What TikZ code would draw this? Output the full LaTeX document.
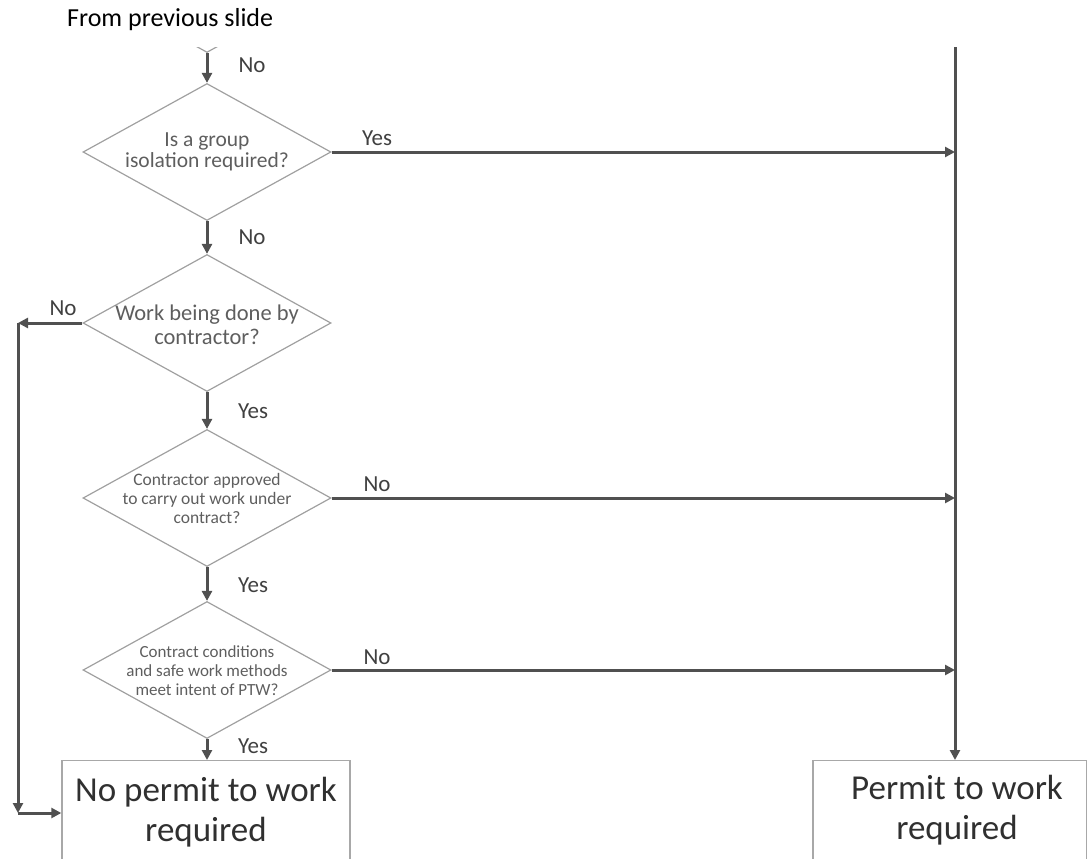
\documentclass[tikz,border=0pt]{standalone}
\usepackage{fontspec}
\setmainfont{Carlito}
\usetikzlibrary{shapes.geometric,arrows.meta}
\definecolor{linegray}{HTML}{505050}
\definecolor{diagray}{HTML}{A0A0A0}
\definecolor{boxgray}{HTML}{A8A8A8}
\definecolor{dtextgray}{HTML}{5E5E5E}
\definecolor{labgray}{HTML}{404040}
\definecolor{bigtext}{HTML}{303030}
\begin{document}
\begin{tikzpicture}[x=1pt,y=-1pt,
  conn/.style={draw=linegray,line width=3pt,-{Triangle[length=10pt,width=10pt]}},
  dec/.style={diamond,draw=diagray,line width=1.2pt,minimum width=248pt,minimum height=137pt,inner sep=0pt},
  dtext/.style={text=dtextgray,align=center,inner sep=0pt},
  lab/.style={font=\fontsize{23}{26}\selectfont,text=labgray,inner sep=0pt},
  endbox/.style={draw=boxgray,line width=1.4pt,inner sep=0pt},
  bigt/.style={font=\fontsize{35}{40}\selectfont,text=bigtext,align=center,inner sep=0pt}]
\useasboundingbox (0,0) rectangle (1087,859);
\node[anchor=base west,font=\fontsize{26}{30}\selectfont,inner sep=0pt] (title) at (67,27) {From previous slide};
\begin{scope}
\clip (0,48) rectangle (1087,859);
% diamonds
\node[dec] (d0) at (207,-16) {};
\node[dec] (d1) at (207,152) {};
\node[dec] (d2) at (207,323) {};
\node[dec] (d3) at (207,498) {};
\node[dec] (d4) at (207,670) {};
\node[dtext,font=\fontsize{21.5}{21}\selectfont] (t1) at (207,152) {Is a group\\isolation required?};
\node[dtext,font=\fontsize{22.5}{24}\selectfont] (t2) at (207,325) {Work being done by\\contractor?};
\node[dtext,font=\fontsize{17.5}{19}\selectfont] (t3) at (207,498) {Contractor approved\\to carry out work under\\contract?};
\node[dtext,font=\fontsize{17}{19}\selectfont] (t4) at (207,671) {Contract conditions\\and safe work methods\\meet intent of PTW?};
% end boxes
\node[endbox,minimum width=288pt,minimum height=130pt,anchor=north] (b1) at (206,760) {};
\node[endbox,minimum width=274pt,minimum height=130pt,anchor=north] (b2) at (950,760) {};
\node[bigt] (bt1) at (206,812) {No permit to work\\required};
\node[bigt] (bt2) at (957,810) {Permit to work\\required};
% right trunk
\coordinate (vtop) at (955,40);
\draw[conn] (vtop) -- (vtop |- b2.north);
% vertical flow
\draw[conn] (d0.south) -- (d1.north);
\draw[conn] (d1.south) -- (d2.north);
\draw[conn] (d2.south) -- (d3.north);
\draw[conn] (d3.south) -- (d4.north);
\draw[conn] (d4.south) -- (d4.south |- b1.north);
% right branches
\draw[conn] (d1.east) -- (d1.east -| vtop);
\draw[conn] (d3.east) -- (d3.east -| vtop);
\draw[conn] (d4.east) -- (d4.east -| vtop);
% left branch
\coordinate (lc1) at (18,323);
\coordinate (lc2) at (18,813);
\draw[conn] (d2.west) -- (lc1);
\draw[conn] (lc1) -- (lc2);
\draw[conn] (lc2) -- (lc2 -| b1.west);
% labels
\node[lab] (l0) at (252,65) {No};
\node[lab] (l1) at (377,138) {Yes};
\node[lab] (l2) at (252,237) {No};
\node[lab] (l3) at (63,308) {No};
\node[lab] (l4) at (253,411) {Yes};
\node[lab] (l5) at (377,484) {No};
\node[lab] (l6) at (253,585) {Yes};
\node[lab] (l7) at (377,657) {No};
\node[lab] (l8) at (253,746) {Yes};
\end{scope}
\end{tikzpicture}
\end{document}
